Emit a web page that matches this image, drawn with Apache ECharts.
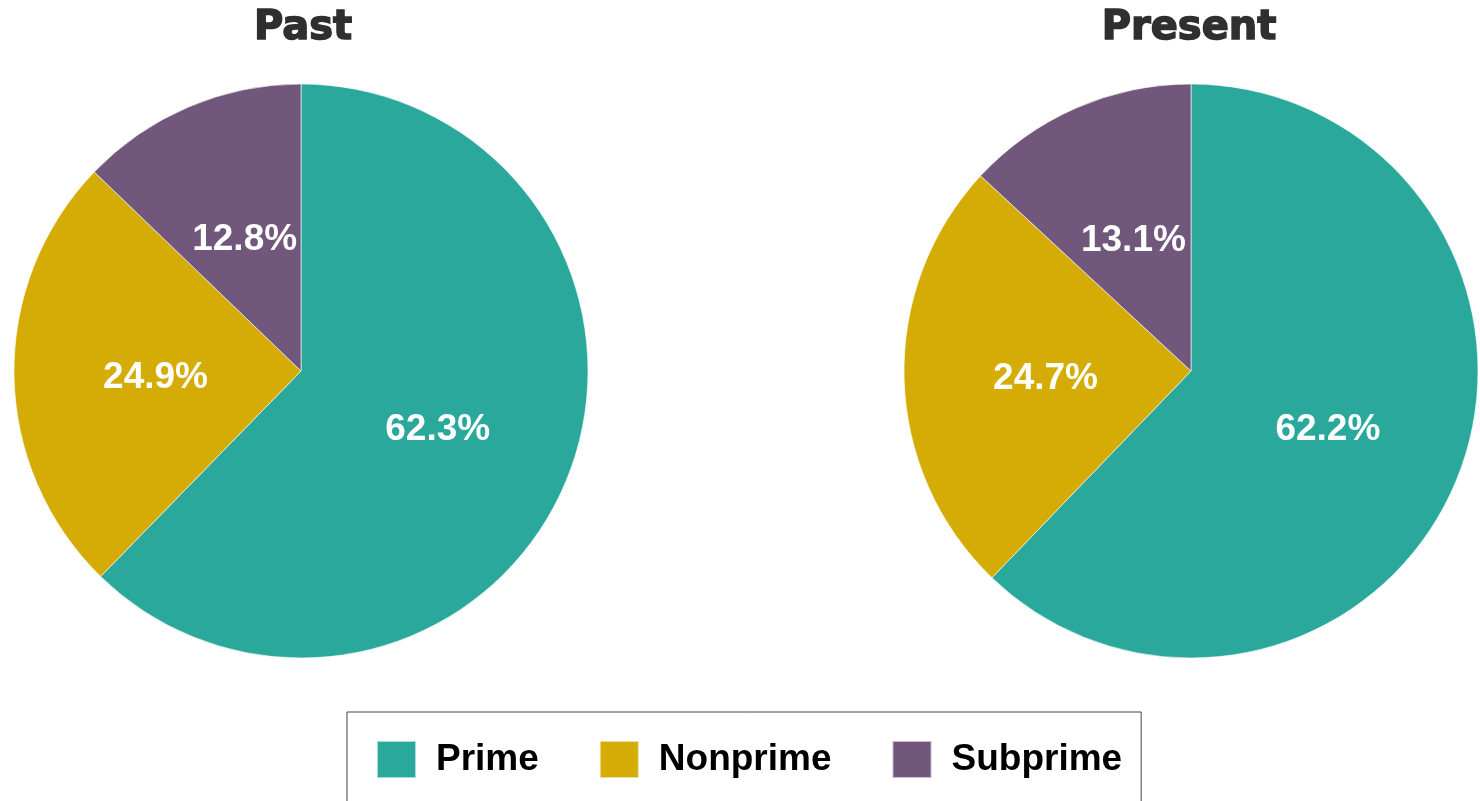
<!DOCTYPE html>
<html>
<head>
<meta charset="utf-8">
<script src="https://cdn.jsdelivr.net/npm/echarts@6/dist/echarts.min.js"></script>
<style>
  html, body { margin: 0; padding: 0; background: #fff; }
  #chart { width: 1480px; height: 801px; }
</style>
</head>
<body>
<div id="chart"></div>
<script>
// Loan-grade shares, past vs present
const categories = ['Prime', 'Nonprime', 'Subprime'];
const pastShares = [62.3, 24.9, 12.8];
const presentShares = [62.2, 24.7, 13.1];
const panelTitles = ['Past', 'Present'];
const sliceColors = ['#2AA89B', '#D4AC05', '#71577B'];

const chart = echarts.init(document.getElementById('chart'), null, { renderer: 'canvas' });

function pieSeries(name, values, center) {
  return {
    name: name,
    type: 'pie',
    center: center,
    radius: [0, 287],
    startAngle: 90,
    clockwise: true,
    animation: false,
    silent: true,
    data: categories.map((c, i) => ({ name: c, value: values[i] })),
    itemStyle: { borderColor: 'rgba(255,255,255,0.6)', borderWidth: 1 },
    label: {
      show: true,
      position: 'inside',
      formatter: p => p.value.toFixed(1) + '%',
      color: '#fff',
      fontFamily: 'Liberation Sans, Arial, sans-serif',
      fontWeight: 'bold',
      fontSize: 37,
      offset: [1, 4]
    },
    labelLine: { show: false },
    emphasis: { disabled: true }
  };
}

chart.setOption({
  backgroundColor: '#fff',
  color: sliceColors,
  title: [
    { text: panelTitles[0], left: 298, top: 4, textAlign: 'center' },
    { text: panelTitles[1], left: 1184, top: 4, textAlign: 'center' }
  ].map(t => Object.assign(t, {
    textStyle: {
      fontFamily: 'DejaVu Sans, sans-serif',
      fontWeight: 'bold',
      fontSize: 40,
      color: '#2f2f2f',
      textBorderColor: '#2f2f2f',
      textBorderWidth: 1.5
    }
  })),
  legend: {
    data: categories,
    left: 347,
    top: 712,
    orient: 'horizontal',
    padding: [28, 19, 40, 29],
    borderColor: '#444',
    borderWidth: 1,
    itemWidth: 39,
    itemHeight: 37,
    itemGap: 60,
    icon: 'rect',
    selectedMode: false,
    textStyle: {
      fontFamily: 'Liberation Sans, Arial, sans-serif',
      fontWeight: 'bold',
      fontSize: 37,
      color: '#000',
      padding: [3, 0, 0, 15]
    }
  },
  series: [
    pieSeries(panelTitles[0], pastShares, [301, 371]),
    pieSeries(panelTitles[1], presentShares, [1191, 371])
  ]
});
</script>
</body>
</html>
